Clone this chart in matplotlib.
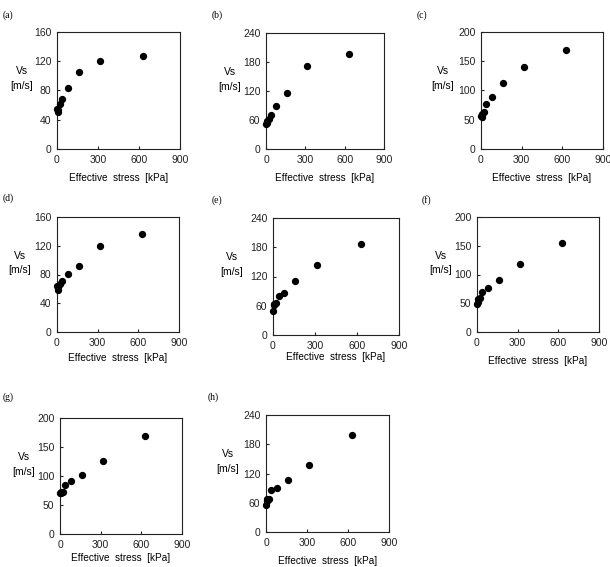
import matplotlib
matplotlib.use('Agg')
from matplotlib import pyplot as plt

# effective stress steps [kPa]
stress = [2.5, 5, 10, 20, 40, 80, 160, 315, 630]

# shear wave velocity Vs [m/s] per panel
vs_a = [55, 50, 53, 61, 69, 83, 105, 121, 127]
vs_b = [52, 53, 58, 62, 71, 88, 116, 171, 196]
vs_c = [57, 55, 60, 64, 77, 89, 113, 140, 170]
vs_d = [64, 59, 63, 67, 71, 81, 92, 119, 136]
vs_e = [50, 61, 64, 66, 79, 86, 111, 144, 186]
vs_f = [48, 53, 57, 60, 70, 77, 90, 119, 154]
vs_g = [71, 71, 72, 72, 85, 92, 102, 126, 169]
vs_h = [55, 63, 67, 68, 86, 91, 106, 138, 198]

labels = ['(a)', '(b)', '(c)', '(d)', '(e)', '(f)', '(g)', '(h)']
series = [vs_a, vs_b, vs_c, vs_d, vs_e, vs_f, vs_g, vs_h]
y_max = [160, 240, 200, 160, 240, 200, 200, 240]
y_step = [40, 60, 50, 40, 60, 50, 50, 60]
x_ticks = [0, 300, 600, 900]

W, H = 610, 567
# axes boxes in pixels: left, top, right, bottom
boxes = [
    (57, 32, 180, 149), (266, 33, 384, 149), (481, 32, 603, 149),
    (57, 217, 179, 332), (273, 218, 399, 335), (477, 217, 599, 332),
    (60, 418, 182, 534), (266, 415, 389, 532),
]
label_pos = [(3, 15), (212, 15), (417, 15), (3, 198), (212, 200), (422, 200),
             (3, 397), (208, 397)]
ylab_gap = [35, 36, 38, 37, 41, 36, 36, 38]
xlab_gap = [29, 29, 29, 26, 22, 29, 24, 29]

SANS = ['Liberation Sans', 'DejaVu Sans']
SERIF = ['Liberation Serif', 'DejaVu Serif']


def main():
    fig = plt.figure(figsize=(W / 100, H / 100), dpi=100)

    for i, (l, t, r, b) in enumerate(boxes):
        ax = fig.add_axes([l / W, 1 - b / H, (r - l) / W, (b - t) / H])
        ax.scatter(stress, series[i], s=18, color='black', zorder=3,
                   clip_on=False)
        ax.set_xlim(0, 900)
        ax.set_ylim(0, y_max[i])
        ax.set_xticks(x_ticks)
        ax.set_yticks(range(0, y_max[i] + 1, y_step[i]))
        ax.tick_params(direction='in', length=2.5, width=0.8, labelsize=7.5,
                       colors='#222222', pad=4)
        for lab in ax.get_xticklabels() + ax.get_yticklabels():
            lab.set_family(SANS)
        for sp in ax.spines.values():
            sp.set_linewidth(0.8)
            sp.set_color('#222222')

        ax.text(-ylab_gap[i] / (r - l), 0.6, 'Vs\n[m/s]', transform=ax.transAxes,
                ha='center', va='center', fontsize=7.5, family=SANS,
                linespacing=1.6)
        ax.text(0.5, -xlab_gap[i] / (b - t), 'Effective  stress  [kPa]',
                transform=ax.transAxes, ha='center', va='center',
                fontsize=7.2, family=SANS)
        lx, ly = label_pos[i]
        fig.text(lx / W, 1 - ly / H, labels[i], ha='left', va='center',
                 fontsize=7, family=SERIF)

    fig.savefig('out.png', dpi=100)
    plt.close(fig)


if __name__ == '__main__':
    main()
